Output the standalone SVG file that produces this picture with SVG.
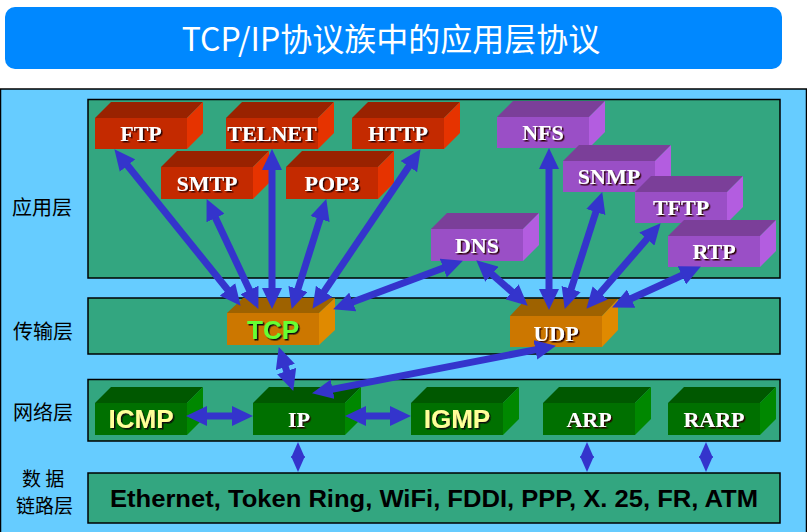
<svg xmlns="http://www.w3.org/2000/svg" width="807" height="532" viewBox="0 0 807 532">
<style>
.lbl{font-family:"Noto Sans CJK SC","Liberation Sans",sans-serif;font-size:20px;fill:#000}
.lbl2{font-family:"Noto Sans CJK SC","Liberation Sans",sans-serif;font-size:19px;fill:#000}
.panel{fill:#33A680;stroke:#000;stroke-width:1.5}
.red .f{fill:#C42A00}.red .t{fill:#992200}.red .s{fill:#E63300}
.pur .f{fill:#9A4FC6}.pur .t{fill:#7B3F99}.pur .s{fill:#B35DE0}
.org .f{fill:#CC7700}.org .t{fill:#9E6200}.org .s{fill:#E08A00}
.grn .f{fill:#007000}.grn .t{fill:#005800}.grn .s{fill:#008800}
.nt{font-family:"Liberation Serif",serif;font-weight:bold;font-size:22px;fill:#fff;text-anchor:middle;filter:url(#sh)}
.st{font-family:"Liberation Sans",sans-serif;font-weight:bold;font-size:26px;text-anchor:middle;filter:url(#sh2)}
.ar{stroke:#3434CC;stroke-width:7;fill:none;marker-start:url(#ah);marker-end:url(#ah)}
.ar2{stroke:#3434CC;stroke-width:5;fill:none;marker-start:url(#ah2);marker-end:url(#ah2)}
</style>
<defs>
<filter id="sh" x="-20%" y="-20%" width="140%" height="140%"><feDropShadow dx="1.5" dy="1.5" stdDeviation="0.2" flood-color="#2a0000" flood-opacity="1"/></filter>
<filter id="sh2" x="-20%" y="-20%" width="140%" height="140%"><feDropShadow dx="1.5" dy="1.5" stdDeviation="0.2" flood-color="#111" flood-opacity="1"/></filter>
<marker id="ah" markerUnits="userSpaceOnUse" markerWidth="22" markerHeight="20" refX="10" refY="10" orient="auto-start-reverse"><path d="M0,0 L21,10 L0,20 Z" fill="#3434CC"/></marker>
<marker id="ah2" markerUnits="userSpaceOnUse" markerWidth="16" markerHeight="14" refX="6" refY="7" orient="auto-start-reverse"><path d="M0,0 L16,7 L0,14 Z" fill="#3434CC"/></marker>
</defs>

<g id="title">
<rect x="5" y="7" width="777" height="62" rx="10" fill="#0088FF"/>
<text x="391" y="51" text-anchor="middle" font-family="'Noto Sans CJK SC','Liberation Sans',sans-serif" font-size="32" fill="#fff">TCP/IP协议族中的应用层协议</text>
</g>

<g id="background">
<rect x="0.5" y="89" width="806" height="446" fill="#66CCFF" stroke="#000" stroke-width="1.5"/>
<rect class="panel" x="88" y="99.5" width="692" height="178.5"/>
<rect class="panel" x="88" y="298" width="692" height="56"/>
<rect class="panel" x="88" y="379.5" width="692" height="61.5"/>
<rect class="panel" x="88" y="473" width="692" height="50"/>
</g>

<g id="layer-labels">
<text class="lbl" x="12" y="215">应用层</text>
<text class="lbl" x="13" y="339">传输层</text>
<text class="lbl" x="13" y="420">网络层</text>
<text class="lbl2" x="22" y="486">数 据</text>
<text class="lbl2" x="16" y="513">链路层</text>
</g>

<g id="FTP" class="red" transform="translate(95,118)"><rect class="f" width="92" height="31"/><polygon class="t" points="0,0 16,-16 108,-16 92,0"/><polygon class="s" points="92,0 108,-16 108,15 92,31"/><text class="nt" x="46" y="23">FTP</text></g>
<g id="TELNET" class="red" transform="translate(226,118)"><rect class="f" width="92" height="31"/><polygon class="t" points="0,0 16,-16 108,-16 92,0"/><polygon class="s" points="92,0 108,-16 108,15 92,31"/><text class="nt" x="46" y="23">TELNET</text></g>
<g id="HTTP" class="red" transform="translate(352,118)"><rect class="f" width="92" height="31"/><polygon class="t" points="0,0 16,-16 108,-16 92,0"/><polygon class="s" points="92,0 108,-16 108,15 92,31"/><text class="nt" x="46" y="23">HTTP</text></g>
<g id="SMTP" class="red" transform="translate(161,167)"><rect class="f" width="92" height="32"/><polygon class="t" points="0,0 16,-16 108,-16 92,0"/><polygon class="s" points="92,0 108,-16 108,16 92,32"/><text class="nt" x="46" y="24">SMTP</text></g>
<g id="POP3" class="red" transform="translate(286,167)"><rect class="f" width="92" height="32"/><polygon class="t" points="0,0 16,-16 108,-16 92,0"/><polygon class="s" points="92,0 108,-16 108,16 92,32"/><text class="nt" x="46" y="24">POP3</text></g>

<g id="NFS" class="pur" transform="translate(497,117)"><rect class="f" width="92" height="31"/><polygon class="t" points="0,0 16,-16 108,-16 92,0"/><polygon class="s" points="92,0 108,-16 108,15 92,31"/><text class="nt" x="46" y="23">NFS</text></g>
<g id="SNMP" class="pur" transform="translate(563,161)"><rect class="f" width="92" height="31"/><polygon class="t" points="0,0 16,-16 108,-16 92,0"/><polygon class="s" points="92,0 108,-16 108,15 92,31"/><text class="nt" x="46" y="23">SNMP</text></g>
<g id="TFTP" class="pur" transform="translate(635,192)"><rect class="f" width="92" height="31"/><polygon class="t" points="0,0 16,-16 108,-16 92,0"/><polygon class="s" points="92,0 108,-16 108,15 92,31"/><text class="nt" x="46" y="23">TFTP</text></g>
<g id="RTP" class="pur" transform="translate(668,236)"><rect class="f" width="92" height="31"/><polygon class="t" points="0,0 16,-16 108,-16 92,0"/><polygon class="s" points="92,0 108,-16 108,15 92,31"/><text class="nt" x="46" y="23">RTP</text></g>
<g id="DNS" class="pur" transform="translate(431,229)"><rect class="f" width="92" height="32"/><polygon class="t" points="0,0 16,-16 108,-16 92,0"/><polygon class="s" points="92,0 108,-16 108,16 92,32"/><text class="nt" x="46" y="24">DNS</text></g>

<g id="TCP" class="org" transform="translate(227,313)"><rect class="f" width="92" height="32"/><polygon class="t" points="0,0 16,-15 108,-15 92,0"/><polygon class="s" points="92,0 108,-15 108,17 92,32"/><text class="st" x="46" y="26" fill="#66FF33">TCP</text></g>
<g id="UDP" class="org" transform="translate(510,316)"><rect class="f" width="92" height="31"/><polygon class="t" points="0,0 16,-17 108,-17 92,0"/><polygon class="s" points="92,0 108,-17 108,14 92,31"/><text class="nt" x="46" y="25">UDP</text></g>

<g id="ICMP" class="grn" transform="translate(95,403)"><rect class="f" width="92" height="32"/><polygon class="t" points="0,0 16,-16 108,-16 92,0"/><polygon class="s" points="92,0 108,-16 108,16 92,32"/><text class="st" x="46" y="25" fill="#FFFF99">ICMP</text></g>
<g id="IP" class="grn" transform="translate(253,403)"><rect class="f" width="92" height="32"/><polygon class="t" points="0,0 16,-16 108,-16 92,0"/><polygon class="s" points="92,0 108,-16 108,16 92,32"/><text class="nt" x="46" y="24">IP</text></g>
<g id="IGMP" class="grn" transform="translate(411,403)"><rect class="f" width="92" height="32"/><polygon class="t" points="0,0 16,-16 108,-16 92,0"/><polygon class="s" points="92,0 108,-16 108,16 92,32"/><text class="st" x="46" y="25" fill="#FFFF99">IGMP</text></g>
<g id="ARP" class="grn" transform="translate(543,403)"><rect class="f" width="92" height="32"/><polygon class="t" points="0,0 16,-16 108,-16 92,0"/><polygon class="s" points="92,0 108,-16 108,16 92,32"/><text class="nt" x="46" y="24">ARP</text></g>
<g id="RARP" class="grn" transform="translate(668,403)"><rect class="f" width="92" height="32"/><polygon class="t" points="0,0 16,-16 108,-16 92,0"/><polygon class="s" points="92,0 108,-16 108,16 92,32"/><text class="nt" x="46" y="24">RARP</text></g>

<g id="datalink">
<text x="434" y="507" text-anchor="middle" font-family="'Liberation Sans',sans-serif" font-weight="bold" font-size="24" textLength="648" lengthAdjust="spacingAndGlyphs" fill="#000">Ethernet, Token Ring, WiFi, FDDI, PPP, X. 25, FR, ATM</text>
</g>

<g id="connectors">
<line class="ar" x1="121.3" y1="157.8" x2="233.7" y2="297.2"/>
<line class="ar" x1="211.3" y1="209" x2="253.7" y2="299"/>
<line class="ar" x1="272" y1="160" x2="272" y2="298"/>
<line class="ar" x1="323" y1="209.5" x2="295" y2="298.5"/>
<line class="ar" x1="414.4" y1="158.3" x2="318.6" y2="299.7"/>
<line class="ar" x1="452.6" y1="264.5" x2="343.4" y2="305.5"/>
<line class="ar" x1="484.5" y1="267.6" x2="519.5" y2="298.4"/>
<line class="ar" x1="549" y1="159" x2="549" y2="299"/>
<line class="ar" x1="598.9" y1="202.5" x2="568.1" y2="298.5"/>
<line class="ar" x1="653.4" y1="231.5" x2="593.6" y2="300.5"/>
<line class="ar" x1="690.9" y1="271.2" x2="622.1" y2="302.8"/>
<line class="ar" x1="282.2" y1="357.5" x2="289.8" y2="380.5"/>
<line class="ar" x1="545.2" y1="347.9" x2="322.8" y2="391.1"/>
<line class="ar" x1="197" y1="416" x2="242" y2="416"/>
<line class="ar" x1="356" y1="416" x2="400" y2="416"/>
<line class="ar2" x1="298" y1="452" x2="298" y2="462"/>
<line class="ar2" x1="587" y1="452" x2="587" y2="462"/>
<line class="ar2" x1="706" y1="452" x2="706" y2="462"/>
</g>
</svg>
